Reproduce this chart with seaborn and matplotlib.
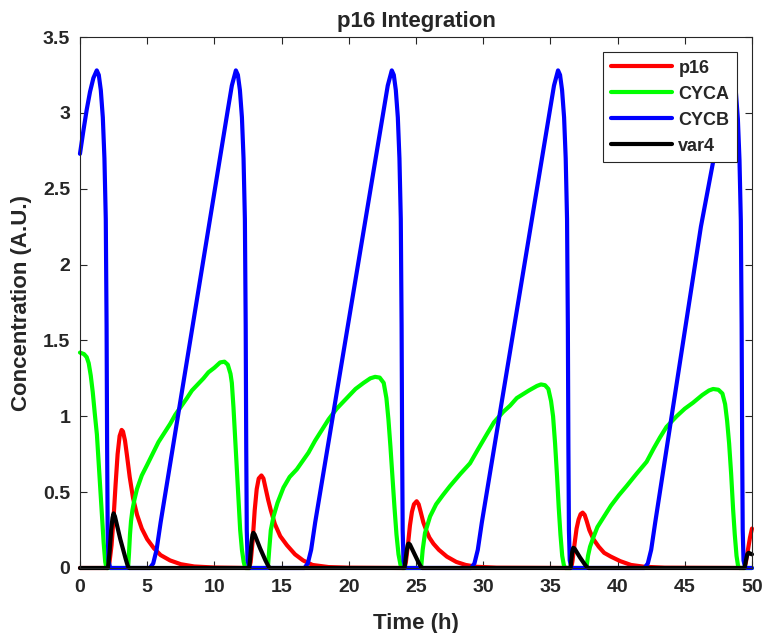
import matplotlib
matplotlib.use("Agg")
import matplotlib.pyplot as plt
import seaborn as sns

# ---- time courses (h, A.U.) ----
p16_t = [0.0, 2.1, 2.2, 2.35, 2.5, 2.65, 2.8, 2.95, 3.1, 3.2, 3.35, 3.5, 3.7, 3.95, 4.25, 4.6,
         5.0, 5.5, 6.0, 6.7, 7.5, 8.5, 10.0, 12.6,
         12.7, 12.85, 13.0, 13.15, 13.3, 13.5, 13.65, 13.8, 14.0, 14.2, 14.5, 14.9, 15.4, 16.0,
         16.6, 17.3, 18.5, 20.0, 24.15,
         24.25, 24.4, 24.55, 24.7, 24.85, 25.05, 25.2, 25.35, 25.55, 25.8, 26.0, 26.3, 26.7,
         27.3, 28.0, 28.7, 29.5, 31.0, 36.55,
         36.65, 36.8, 36.95, 37.1, 37.25, 37.4, 37.55, 37.7, 37.9, 38.2, 38.6, 39.0, 39.5,
         40.2, 41.0, 42.0, 43.5, 49.45,
         49.55, 49.7, 49.85, 50.0]
p16_v = [0.0, 0.0, 0.04, 0.15, 0.33, 0.55, 0.75, 0.87, 0.91, 0.90, 0.84, 0.74, 0.60, 0.46, 0.35, 0.26,
         0.19, 0.13, 0.085, 0.05, 0.025, 0.01, 0.003, 0.0,
         0.04, 0.18, 0.38, 0.52, 0.59, 0.61, 0.59, 0.53, 0.45, 0.38, 0.29, 0.21, 0.15, 0.09,
         0.05, 0.02, 0.006, 0.002, 0.0,
         0.04, 0.15, 0.28, 0.37, 0.42, 0.44, 0.42, 0.37, 0.30, 0.24, 0.20, 0.16, 0.12,
         0.075, 0.04, 0.02, 0.008, 0.002, 0.0,
         0.05, 0.16, 0.26, 0.32, 0.355, 0.365, 0.35, 0.31, 0.25, 0.19, 0.14, 0.10, 0.075,
         0.045, 0.02, 0.008, 0.002, 0.0,
         0.04, 0.12, 0.20, 0.26]

cyca_t = [0.0, 0.3, 0.5, 0.65, 0.8, 0.95, 1.1, 1.26, 1.4, 1.51, 1.64, 1.76, 1.88, 1.97,
          3.58, 3.65, 3.72, 3.8, 3.9, 4.05, 4.24, 4.6, 5.0, 5.84, 6.71, 7.09, 7.96, 8.33, 9.19,
          9.56, 10.0, 10.43, 10.75, 11.0, 11.2, 11.3, 11.42, 11.55, 11.7, 11.8, 11.92, 12.05,
          12.18, 12.3,
          13.98, 14.08, 14.2, 14.4, 14.7, 15.14, 15.6, 16.13, 16.6, 17.0, 17.5, 18.0, 18.5,
          19.1, 19.85, 20.5, 21.1, 21.6, 21.96, 22.3, 22.6, 22.8, 22.95, 23.1, 23.25, 23.4,
          23.55, 23.7, 23.85, 23.95,
          25.38, 25.5, 25.67, 26.05, 26.5, 27.0, 27.53, 28.3, 29.02, 29.6, 30.26, 30.8, 31.5,
          32.0, 32.5, 33.4, 34.0, 34.3, 34.6, 34.85, 35.05, 35.2, 35.35, 35.5, 35.62, 35.75,
          35.88, 36.0, 36.1,
          37.68, 37.8, 37.95, 38.19, 38.5, 38.93, 39.5, 40.1, 40.67, 41.4, 42.16, 42.7, 43.15,
          43.64, 44.39, 45.0, 45.62, 46.3, 46.8, 47.11, 47.5, 47.8, 48.0, 48.15, 48.3, 48.45,
          48.6, 48.72, 48.85, 48.97, 49.05, 50.0]
cyca_v = [1.42, 1.41, 1.39, 1.35, 1.27, 1.16, 1.02, 0.88, 0.68, 0.52, 0.34, 0.17, 0.04, 0.0,
          0.0, 0.10, 0.22, 0.31, 0.38, 0.45, 0.52, 0.61, 0.68, 0.83, 0.95, 1.01, 1.12, 1.17, 1.25,
          1.29, 1.32, 1.355, 1.36, 1.34, 1.28, 1.22, 1.06, 0.85, 0.60, 0.45, 0.25, 0.12,
          0.04, 0.0,
          0.0, 0.12, 0.25, 0.34, 0.43, 0.53, 0.60, 0.65, 0.71, 0.76, 0.84, 0.91, 0.98,
          1.05, 1.12, 1.18, 1.22, 1.25, 1.26, 1.255, 1.22, 1.12, 0.98, 0.80, 0.60, 0.40,
          0.22, 0.09, 0.02, 0.0,
          0.0, 0.12, 0.23, 0.34, 0.42, 0.48, 0.54, 0.62, 0.69, 0.78, 0.88, 0.96, 1.03,
          1.07, 1.12, 1.17, 1.20, 1.21, 1.205, 1.18, 1.10, 1.00, 0.82, 0.60, 0.40, 0.22,
          0.08, 0.02, 0.0,
          0.0, 0.08, 0.14, 0.20, 0.27, 0.33, 0.41, 0.48, 0.54, 0.62, 0.70, 0.79, 0.86,
          0.93, 1.00, 1.05, 1.09, 1.14, 1.17, 1.18, 1.175, 1.15, 1.08, 0.97, 0.82, 0.62,
          0.38, 0.22, 0.08, 0.01, 0.0, 0.0]

cycb_t = [0.0, 0.25, 0.5, 0.75, 1.0, 1.25, 1.4, 1.55, 1.7, 1.82, 1.92, 1.98, 2.02, 2.06, 2.12, 2.25,
          5.2, 5.45, 5.7, 6.0, 11.0, 11.3, 11.6,
          11.75, 11.9, 12.05, 12.17, 12.27, 12.33, 12.37, 12.41, 12.47, 12.6,
          16.7, 16.95, 17.2, 17.5, 22.6, 22.9, 23.2,
          23.35, 23.5, 23.65, 23.77, 23.87, 23.93, 23.97, 24.01, 24.07, 24.2,
          29.1, 29.35, 29.6, 29.9, 34.97, 35.27, 35.57,
          35.72, 35.87, 36.02, 36.14, 36.24, 36.3, 36.34, 36.38, 36.44, 36.57,
          42.0, 42.25, 42.5, 42.8, 46.2, 47.9, 48.2, 48.5,
          48.65, 48.8, 48.95, 49.07, 49.17, 49.23, 49.27, 49.31, 49.37, 49.5, 50.0]
cycb_v = [2.73, 2.88, 3.02, 3.14, 3.23, 3.28, 3.25, 3.15, 2.97, 2.70, 2.30, 1.60, 0.80, 0.25, 0.05, 0.0,
          0.0, 0.03, 0.12, 0.30, 3.02, 3.18, 3.28,
          3.25, 3.15, 2.97, 2.70, 2.30, 1.60, 0.80, 0.25, 0.05, 0.0,
          0.0, 0.03, 0.12, 0.30, 3.02, 3.18, 3.28,
          3.25, 3.15, 2.97, 2.70, 2.30, 1.60, 0.80, 0.25, 0.05, 0.0,
          0.0, 0.03, 0.12, 0.30, 3.02, 3.18, 3.28,
          3.25, 3.15, 2.97, 2.70, 2.30, 1.60, 0.80, 0.25, 0.05, 0.0,
          0.0, 0.03, 0.12, 0.30, 2.25, 3.05, 3.20, 3.27,
          3.24, 3.14, 2.96, 2.69, 2.29, 1.60, 0.80, 0.25, 0.05, 0.0, 0.0]

var4_t = [0.0, 2.08, 2.2, 2.32, 2.42, 2.5, 2.6, 3.0, 3.4, 3.55, 3.65,
          12.6, 12.68, 12.76, 12.84, 12.9, 13.0, 13.4, 13.8, 14.0, 14.12,
          24.15, 24.23, 24.32, 24.4, 24.45, 24.55, 24.9, 25.2, 25.35, 25.45,
          36.5, 36.56, 36.63, 36.7, 36.8, 37.2, 37.55, 37.72, 37.82,
          49.45, 49.55, 49.65, 49.75, 50.0]
var4_v = [0.0, 0.0, 0.10, 0.25, 0.33, 0.36, 0.34, 0.19, 0.06, 0.015, 0.0,
          0.0, 0.08, 0.17, 0.22, 0.232, 0.22, 0.13, 0.05, 0.015, 0.0,
          0.0, 0.06, 0.12, 0.155, 0.161, 0.155, 0.09, 0.035, 0.01, 0.0,
          0.0, 0.05, 0.11, 0.133, 0.128, 0.07, 0.025, 0.006, 0.0,
          0.0, 0.05, 0.09, 0.10, 0.09]

series_names = ["p16", "CYCA", "CYCB", "var4"]
series_colors = ["#ff0000", "#00ff00", "#0000ff", "#000000"]
x_ticks = [0, 5, 10, 15, 20, 25, 30, 35, 40, 45, 50]
y_ticks = [0, 0.5, 1, 1.5, 2, 2.5, 3, 3.5]
y_tick_labels = ["0", "0.5", "1", "1.5", "2", "2.5", "3", "3.5"]

sns.set_theme(style="white")
plt.rcParams["font.family"] = ["Liberation Sans", "DejaVu Sans"]
plt.rcParams["font.weight"] = "bold"
plt.rcParams["axes.labelweight"] = "bold"
plt.rcParams["axes.titleweight"] = "bold"

ink = "#262626"

fig = plt.figure(figsize=(7.66, 6.33), dpi=100, facecolor="white")
ax = fig.add_axes([0.1044, 0.1027, 0.9817 - 0.1044, 0.9415 - 0.1027])

curves = [(p16_t, p16_v), (cyca_t, cyca_v), (cycb_t, cycb_v), (var4_t, var4_v)]
for (tt, vv), name, col in zip(curves, series_names, series_colors):
    sns.lineplot(x=tt, y=vv, ax=ax, color=col, linewidth=3.0, label=name,
                 estimator=None, sort=False, clip_on=False)

ax.set_xlim(0, 50)
ax.set_ylim(0, 3.5)
ax.set_xticks(x_ticks)
ax.set_xticklabels([str(v) for v in x_ticks])
ax.set_yticks(y_ticks)
ax.set_yticklabels(y_tick_labels)

for side in ["left", "right", "top", "bottom"]:
    ax.spines[side].set_visible(True)
    ax.spines[side].set_color(ink)
    ax.spines[side].set_linewidth(0.8)

ax.tick_params(axis="both", which="major", direction="in", length=4.8, width=0.8,
               color=ink, labelcolor=ink, labelsize=14, top=True, right=True,
               bottom=True, left=True)
ax.tick_params(axis="x", pad=8)
ax.tick_params(axis="y", pad=7)
for lab in ax.get_xticklabels() + ax.get_yticklabels():
    lab.set_fontweight("bold")

ax.set_title("p16 Integration", fontsize=16, fontweight="bold", color=ink, pad=7)
ax.set_xlabel("Time (h)", fontsize=16, fontweight="bold", color=ink, labelpad=12)
ax.set_ylabel("Concentration (A.U.)", fontsize=16, fontweight="bold", color=ink, labelpad=8)

leg = ax.legend(loc="upper right", fontsize=13, frameon=True, fancybox=False,
                framealpha=1.0, edgecolor=ink, handlelength=3.4, handletextpad=0.35,
                labelspacing=0.5, borderpad=0.42, borderaxespad=0.83)
leg.get_frame().set_linewidth(0.8)
for txt in leg.get_texts():
    txt.set_fontweight("bold")
    txt.set_color(ink)
for ln in leg.get_lines():
    ln.set_linewidth(3.0)

fig.savefig("out.png", dpi=100, facecolor="white")
